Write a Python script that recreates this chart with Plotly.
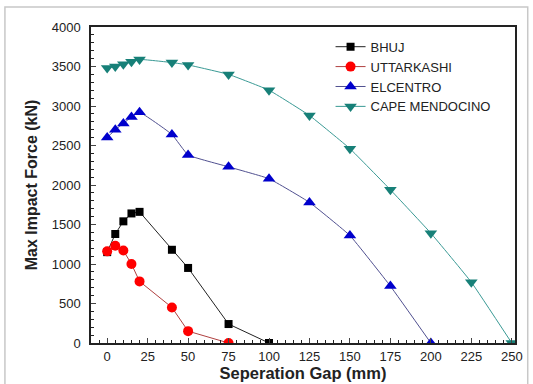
import plotly.graph_objects as go

gap_bhuj = [0, 5, 10, 15, 20, 40, 50, 75, 100]
bhuj = [1150, 1380, 1540, 1640, 1660, 1180, 950, 240, 0]

gap_utt = [0, 5, 10, 15, 20, 40, 50, 75]
uttarkashi = [1160, 1230, 1170, 1000, 780, 450, 150, 0]

gap_elc = [0, 5, 10, 15, 20, 40, 50, 75, 100, 125, 150, 175, 200]
elcentro = [2600, 2700, 2780, 2860, 2920, 2640, 2380, 2230, 2080, 1780, 1360, 720, 0]

gap_cape = [0, 5, 10, 15, 20, 40, 50, 75, 100, 125, 150, 175, 200, 225, 250]
cape = [3480, 3500, 3530, 3560, 3590, 3550, 3520, 3400, 3200, 2880, 2460, 1940, 1390, 770, 0]

x_ticks = [0, 25, 50, 75, 100, 125, 150, 175, 200, 225, 250]
y_ticks = [0, 500, 1000, 1500, 2000, 2500, 3000, 3500, 4000]

fig = go.Figure()
fig.add_trace(go.Scatter(x=gap_bhuj, y=bhuj, name="BHUJ", mode="lines+markers",
                         line=dict(color="#222222", width=1),
                         marker=dict(symbol="square", size=8, color="#000000")))
fig.add_trace(go.Scatter(x=gap_utt, y=uttarkashi, name="UTTARKASHI", mode="lines+markers",
                         line=dict(color="#b04040", width=1),
                         marker=dict(symbol="circle", size=10, color="#ff0000")))
fig.add_trace(go.Scatter(x=gap_elc, y=elcentro, name="ELCENTRO", mode="lines+markers",
                         line=dict(color="#505090", width=1, shape="spline", smoothing=0.3),
                         marker=dict(symbol="triangle-up", size=11, color="#0000cc")))
fig.add_trace(go.Scatter(x=gap_cape, y=cape, name="CAPE MENDOCINO", mode="lines+markers",
                         line=dict(color="#3a9a95", width=1, shape="spline", smoothing=0.3),
                         marker=dict(symbol="triangle-down", size=11, color="#178078")))

fig.update_layout(
    width=533, height=384,
    margin=dict(l=91, r=18, t=27, b=41, autoexpand=False),
    paper_bgcolor="white", plot_bgcolor="white",
    font=dict(family="Liberation Sans, Arial, sans-serif", color="#222222"),
    showlegend=True,
    legend=dict(x=0.565, y=0.985, xanchor="left", yanchor="top",
                bgcolor="rgba(0,0,0,0)", font=dict(size=13, color="#222222"),
                tracegroupgap=0, itemwidth=30),
    shapes=[dict(type="rect", xref="paper", yref="paper",
                 x0=-0.203, x1=1.03, y0=-0.15, y1=1.063,
                 line=dict(color="#c8c8c8", width=1.5), layer="below")],
)
fig.update_xaxes(
    range=[-10, 252], tickvals=x_ticks, ticks="inside", ticklen=5,
    minor=dict(dtick=5, ticks="inside", ticklen=3, tickcolor="#222222"),
    showline=True, linecolor="#222222", linewidth=1.5, mirror=True,
    showgrid=False, zeroline=False, tickfont=dict(size=13), automargin=False,
    ticklabelstandoff=1,
    title=dict(text="<b>Seperation Gap (mm)</b>", font=dict(size=16.5), standoff=4),
)
fig.update_yaxes(
    range=[0, 4000], tickvals=y_ticks, ticks="inside", ticklen=5,
    minor=dict(dtick=100, ticks="inside", ticklen=3, tickcolor="#222222"),
    showline=True, linecolor="#222222", linewidth=1.5, mirror=True,
    showgrid=False, zeroline=False, tickfont=dict(size=13), automargin=False,
    ticklabelstandoff=6,
    title=dict(text="<b>Max Impact Force (kN)</b>", font=dict(size=16), standoff=10),
)

fig.write_html("out.html", config={"displayModeBar": False},
               post_script="document.body.style.margin='0';document.body.style.overflow='hidden';")
